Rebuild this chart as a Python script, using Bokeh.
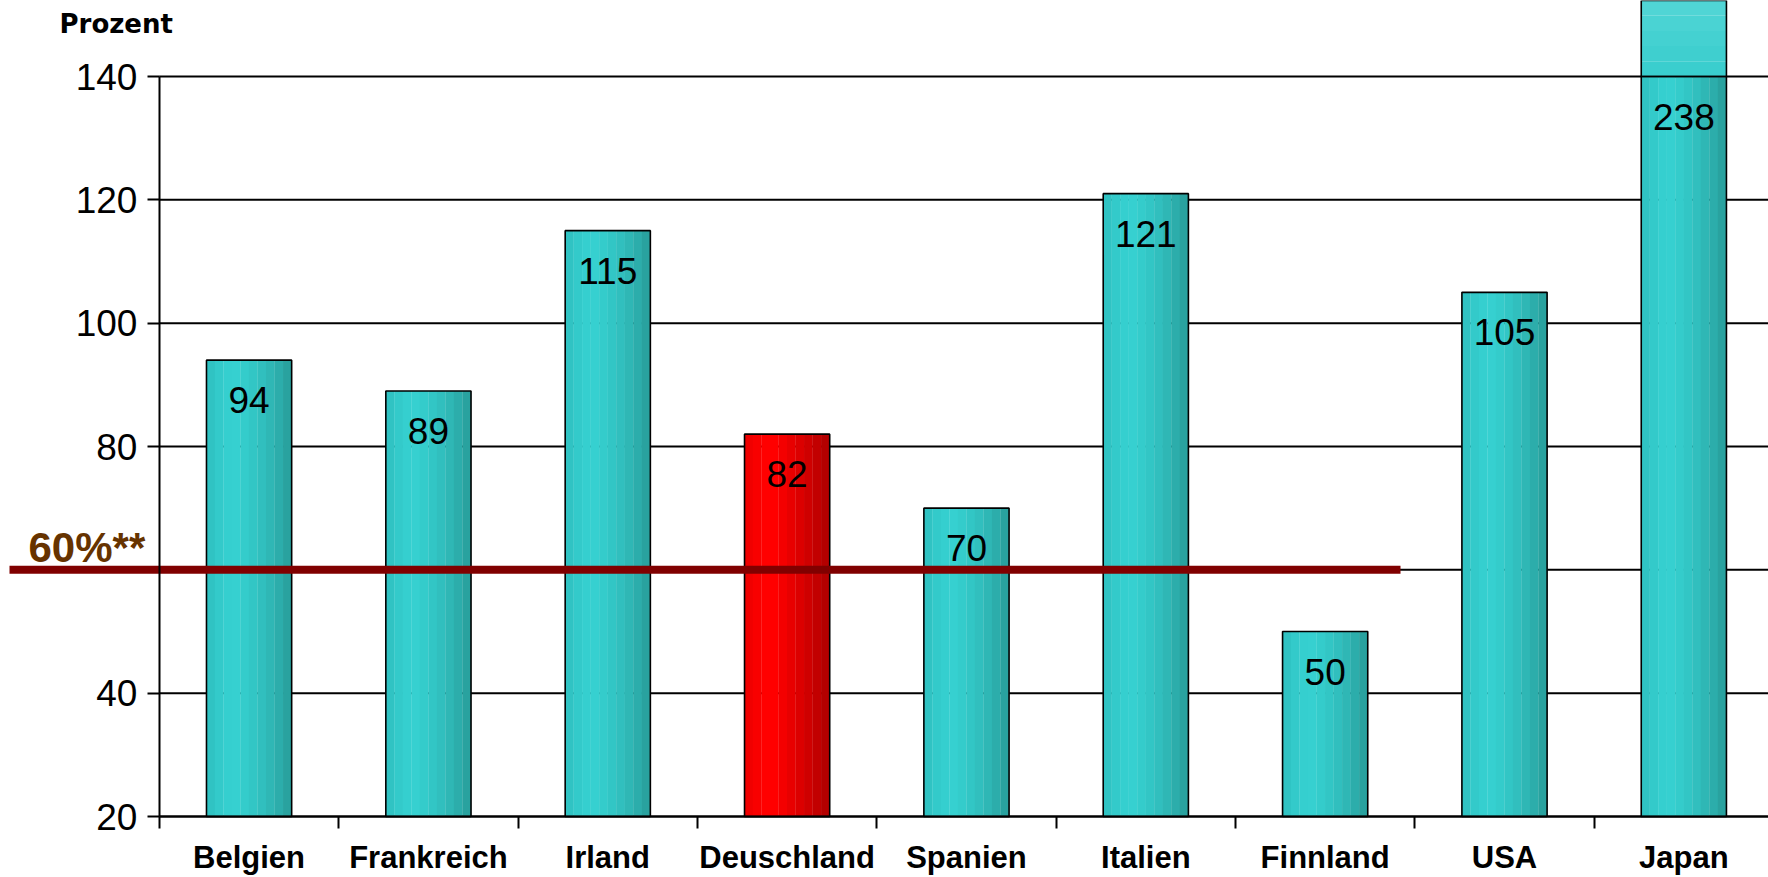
from bokeh.plotting import figure
from bokeh.models import Range1d, FixedTicker, Label
from bokeh.embed import file_html
from bokeh.resources import INLINE
from bokeh.core.properties import value

# ---- data ----
countries = ["Belgien", "Frankreich", "Irland", "Deuschland", "Spanien",
             "Italien", "Finnland", "USA", "Japan"]
debt = [94, 89, 115, 82, 70, 121, 50, 105, 238]
highlight = "Deuschland"
threshold = 60
threshold_label = "60%**"
y_tick_values = [20, 40, 80, 100, 120, 140]
grid_values = [20, 40, 60, 80, 100, 120, 140]
y_base = 20
y_cap = 140
y_title = "Prozent"

# ---- layout / style ----
W, H = 1768, 877
x_start, x_end = -1.386, 8.472
px_per_unit = 740 / 120.0
y_end = y_cap + 76 / px_per_unit
y_start = y_end - H / px_per_unit
bar_w = 0.475
N = 10
teal = ["#30c3c3", "#33caca", "#35cfcf", "#36d0d0", "#34cccb",
        "#32c6c5", "#31bfbe", "#2fb7b5", "#2cadab", "#29a29f"]
red = ["#f00000", "#f80000", "#ff0000", "#ff0000", "#f40000",
       "#e80000", "#dc0000", "#cf0000", "#c20000", "#b40000"]
upper = ["#3acece", "#3fcfcf", "#44d1d1", "#4ad3d3", "#50d5d5"]


def px_x(px):
    return x_start + px * (x_end - x_start) / W


def px_y(py):
    return y_end - py * (y_end - y_start) / H


p = figure(width=W, height=H, x_range=Range1d(x_start, x_end),
           y_range=Range1d(y_start, y_end), output_backend="svg",
           toolbar_location=None, min_border=0)
p.outline_line_color = None
p.xgrid.visible = False
p.ygrid.visible = False
p.background_fill_color = "white"
p.border_fill_color = "white"

xs = list(range(len(countries)))

# grid lines (start at the y axis)
p.segment(x0=[-0.5] * len(grid_values), x1=[x_end] * len(grid_values),
          y0=grid_values, y1=grid_values, line_color="black", line_width=2)

# bars with horizontal gradient made of stripes
lower_top = [min(v, y_cap) for v in debt]
sw = bar_w / N
for j in range(N):
    cols = [red[j] if c == highlight else teal[j] for c in countries]
    p.vbar(x=[x - bar_w / 2 + (j + 0.5) * sw for x in xs], width=sw * 1.03,
           bottom=y_base, top=lower_top, fill_color=cols, line_color=None)

# part of bars beyond the cap (vertical gradient)
over = [i for i, v in enumerate(debt) if v > y_cap]
nb = len(upper)
step = (y_end - y_cap) / nb
for k in range(nb):
    for i in over:
        top = debt[i] if k == nb - 1 else min(debt[i], y_cap + (k + 1) * step)
        p.vbar(x=[i], width=bar_w, bottom=[y_cap + k * step], top=[top],
               fill_color=upper[k], line_color=None)
# outlines
p.vbar(x=xs, width=bar_w, bottom=y_base, top=lower_top, fill_color=None,
       line_color="black", line_width=1.6)
if over:
    p.vbar(x=over, width=bar_w, bottom=y_cap, top=[debt[i] for i in over],
           fill_color=None, line_color="black", line_width=1.6)

# value labels
p.text(x=xs, y=lower_top, text=[str(v) for v in debt], text_align="center",
       text_baseline="middle", y_offset=40, text_font=value("Liberation Sans"),
       text_font_size="37px", text_color="black")

# threshold line
p.segment(x0=[px_x(9)], x1=[px_x(1400)], y0=[threshold], y1=[threshold],
          line_color="#800000", line_width=8, line_cap="butt")

# y axis
ya = p.yaxis[0]
ya.fixed_location = -0.5
ya.bounds = (y_base, y_cap)
ya.ticker = FixedTicker(ticks=y_tick_values)
ya.axis_line_width = 2
ya.axis_line_color = "black"
ya.major_tick_out = 12
ya.major_tick_in = 0
ya.major_tick_line_width = 2
ya.major_tick_line_color = "black"
ya.minor_tick_line_color = None
ya.major_label_text_font = "Liberation Sans"
ya.major_label_text_font_size = "37px"
ya.major_label_text_color = "black"
ya.major_label_standoff = 10

# x axis
xa = p.xaxis[0]
xa.fixed_location = y_base
xa.ticker = FixedTicker(ticks=xs, minor_ticks=[i - 0.5 for i in range(len(countries) + 1)])
xa.bounds = (-0.5, len(countries) - 0.5)
xa.major_label_overrides = {i: c for i, c in enumerate(countries)}
xa.axis_line_width = 2
xa.axis_line_color = "black"
xa.major_tick_out = 0
xa.major_tick_in = 0
xa.major_tick_line_color = None
xa.minor_tick_out = 12
xa.minor_tick_in = 0
xa.minor_tick_line_width = 2
xa.minor_tick_line_color = "black"
xa.major_label_text_font = "Liberation Sans"
xa.major_label_text_font_style = "bold"
xa.major_label_text_font_size = "31px"
xa.major_label_text_color = "black"
xa.major_label_standoff = 11

p.add_layout(Label(x=px_x(59), y=px_y(23), text=y_title, text_font="DejaVu Sans",
                   text_font_style="bold", text_font_size="26px",
                   text_color="black", text_baseline="alphabetic"))
p.add_layout(Label(x=px_x(28), y=px_y(547), text=threshold_label,
                   text_font="Liberation Sans", text_font_style="bold",
                   text_font_size="42px", text_color="#663300",
                   text_baseline="alphabetic"))

open("out.html", "w").write(file_html(p, INLINE))
